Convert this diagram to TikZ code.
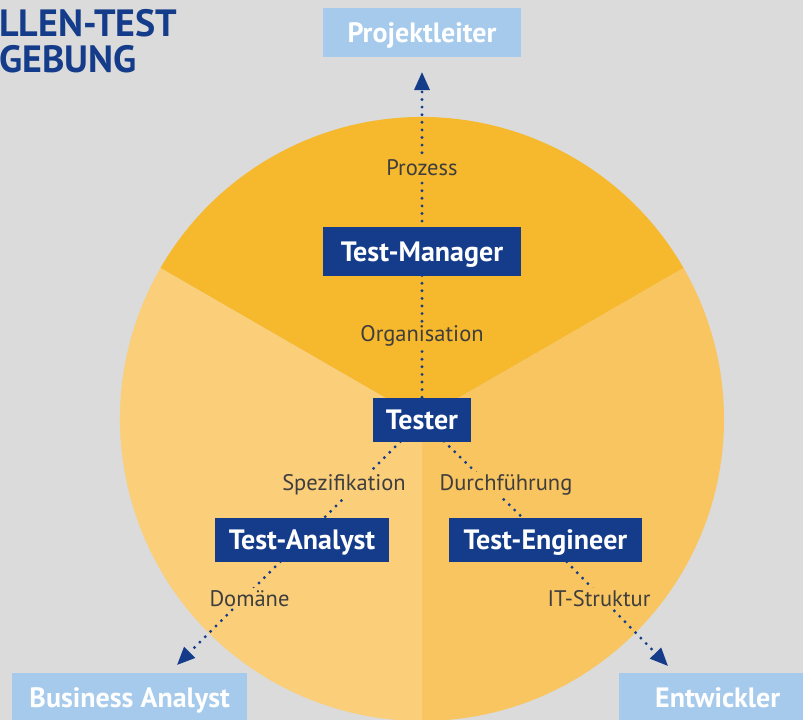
\documentclass[tikz,border=0pt]{standalone}
\usepackage{fontspec}
\setmainfont{PT Sans}
\usetikzlibrary{arrows.meta}

\definecolor{greybg}{HTML}{DADBDA}
\definecolor{secTop}{HTML}{F6B82C}
\definecolor{secLeft}{HTML}{FBCE7A}
\definecolor{secRight}{HTML}{F9C560}
\definecolor{boxblue}{HTML}{143C8A}
\definecolor{lightblue}{HTML}{A6CAEC}
\definecolor{labelgrey}{HTML}{3E3E3E}

\pgfdeclarelayer{back}
\pgfdeclarelayer{links}
\pgfsetlayers{back,links,main}

\tikzset{
	rolebox/.style={fill=boxblue, text=white, inner sep=0pt, minimum height=44pt,
		text height=19.6pt, text depth=0pt, font=\bfseries\fontsize{28}{32}\selectfont},
	outerbox/.style={fill=lightblue, text=white, inner sep=0pt, minimum height=49pt,
		text height=19.6pt, text depth=0pt, font=\bfseries\fontsize{28}{32}\selectfont},
	relation/.style={text=labelgrey, inner sep=2pt, anchor=base, font=\fontsize{22.5}{26}\selectfont},
	headline/.style={text=boxblue, inner sep=0pt, font=\bfseries\fontsize{38}{40}\selectfont},
	link/.style={draw=boxblue, line width=3.2pt, line cap=round, dash pattern=on 0pt off 7.6pt},
	tip/.style={-{Triangle[length=18pt,width=15pt]}}
}

\begin{document}
\begin{tikzpicture}[x=1pt,y=-1pt]
	\useasboundingbox (0,0) rectangle (803,720);
	\clip (0,0) rectangle (803,720);

	% circle in three sectors
	\begin{pgfonlayer}{back}
		\fill[greybg] (0,0) rectangle (803,720);
		\coordinate (c) at (422,419);
		\fill[secTop] (c) -- ++(-30:302) arc[start angle=-30, end angle=-150, radius=302] -- cycle;
		\fill[secLeft] (c) -- ++(-150:302) arc[start angle=-150, end angle=-270, radius=302] -- cycle;
		\fill[secRight] (c) -- ++(-270:302) arc[start angle=-270, end angle=-390, radius=302] -- cycle;
	\end{pgfonlayer}

	\node[headline, anchor=base west] (headA) at (-1,36) {LLEN-TEST};
	\node[headline, anchor=base west] (headB) at (-1,72) {GEBUNG};

	% roles
	\node[outerbox, minimum width=198pt] (pl) at (422,32.5) {Projektleiter};
	\node[rolebox, minimum width=198pt, minimum height=49pt] (tm) at (422,251.5) {Test-Manager};
	\node[rolebox, minimum width=98pt] (tester) at (422,420) {Tester};
	\node[rolebox, minimum width=174pt] (ta) at (302,540) {Test-Analyst};
	\node[rolebox, minimum width=193pt] (te) at (545.5,540) {Test-Engineer};
	\node[outerbox, minimum width=235pt, anchor=north west] (ba) at (12,673) {Business Analyst};
	\node[outerbox, minimum width=197pt, anchor=north west] (ew) at (619,673) {Entwickler};

	\coordinate (plTip) at (422,72);
	\coordinate (baTip) at (177,665);
	\coordinate (ewTip) at (668,666);

	\begin{pgfonlayer}{links}
		\draw[link] (tester.center) -- (tm.center);
		\draw[link, tip] (tm.center) -- (plTip);
		\draw[link] (tester.center) -- (ta.center);
		\draw[link, tip] (ta.center) -- (baTip);
		\draw[link] (tester.center) -- (te.center);
		\draw[link, tip] (te.center) -- (ewTip);
	\end{pgfonlayer}

	% relations
	\foreach \name/\pos/\col/\txt in {prz/{(422,175)}/secTop/Prozess, org/{(422,341)}/secTop/Organisation,
		spz/{(344,490)}/secLeft/Spezifikation, dom/{(249.5,606)}/secLeft/Domäne,
		drf/{(506,490)}/secRight/Durchführung, its/{(599,606)}/secRight/IT-Struktur}
		\node[relation, fill=\col] (\name) at \pos {\txt};
\end{tikzpicture}
\end{document}
